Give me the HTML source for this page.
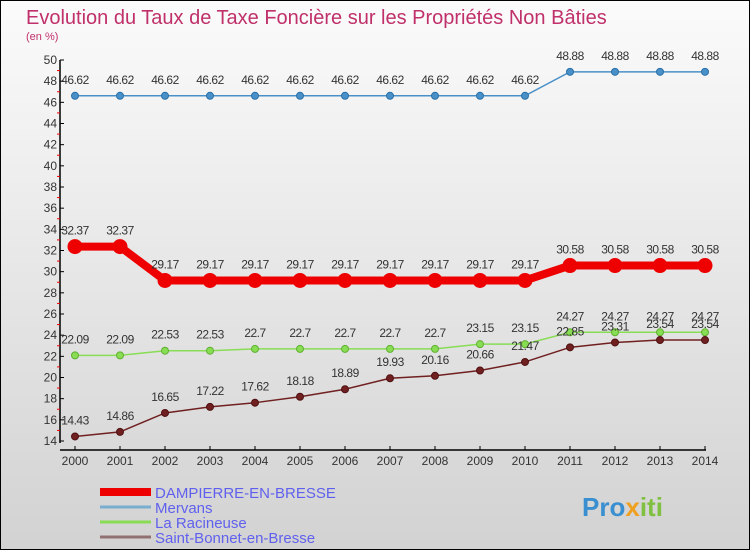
<!DOCTYPE html>
<html><head><meta charset="utf-8"><style>
html,body{margin:0;padding:0}
body{width:750px;height:550px;overflow:hidden;font-family:"Liberation Sans",sans-serif}
svg{display:block}
</style></head><body>
<svg id="chart" width="750" height="550" xmlns="http://www.w3.org/2000/svg">
<defs><linearGradient id="bg" x1="0" y1="0" x2="0" y2="1"><stop offset="0" stop-color="#fbfbfb"/><stop offset="1" stop-color="#d2d2d2"/></linearGradient></defs>
<rect x="0" y="0" width="750" height="550" fill="url(#bg)"/>
<rect x="0.5" y="0.5" width="749" height="549" fill="none" stroke="#000" stroke-width="1"/>
<text x="26" y="24" font-size="20" fill="#c0306a">Evolution du Taux de Taxe Foncière sur les Propriétés Non Bâties</text>
<text x="26" y="40" font-size="11" fill="#c0306a">(en %)</text>
<g id="axes"></g>
<g id="series"></g>
<g id="legend"></g>
<text x="582" y="516" font-size="26" font-weight="bold" fill="#3a8fd0">Pro<tspan fill="#f0a020">x</tspan><tspan fill="#80c040">iti</tspan></text>
</svg>
<script>
const years=[2000,2001,2002,2003,2004,2005,2006,2007,2008,2009,2010,2011,2012,2013,2014];
const yTicks=[14,16,18,20,22,24,26,28,30,32,34,36,38,40,42,44,46,48,50];
const dampierre=[32.37,32.37,29.17,29.17,29.17,29.17,29.17,29.17,29.17,29.17,29.17,30.58,30.58,30.58,30.58];
const mervans=[46.62,46.62,46.62,46.62,46.62,46.62,46.62,46.62,46.62,46.62,46.62,48.88,48.88,48.88,48.88];
const racineuse=[22.09,22.09,22.53,22.53,22.7,22.7,22.7,22.7,22.7,23.15,23.15,24.27,24.27,24.27,24.27];
const saintBonnet=[14.43,14.86,16.65,17.22,17.62,18.18,18.89,19.93,20.16,20.66,21.47,22.85,23.31,23.54,23.54];
const seriesNames=["DAMPIERRE-EN-BRESSE","Mervans","La Racineuse","Saint-Bonnet-en-Bresse"];
const NS="http://www.w3.org/2000/svg";
const xS=i=>75+i*45;
const yS=v=>60+(50-v)*(381/36);
function mk(tag,attrs,parent){const e=document.createElementNS(NS,tag);for(const k in attrs)e.setAttribute(k,attrs[k]);parent.appendChild(e);return e;}
const axes=document.getElementById('axes');
let ax=mk('line',{x1:60,y1:60,x2:60,y2:443,stroke:'#000','stroke-width':1.5},axes);


let xa=mk('line',{x1:60,y1:450,x2:706,y2:450,stroke:'#000','stroke-width':1.5},axes);


yTicks.forEach((t,k)=>{
  const y=yS(t);
  let tk=mk('line',{x1:60,y1:y,x2:64,y2:y,stroke:'#000'},axes);
  
  
  if(k<yTicks.length-1){
    let mt=mk('line',{x1:57,y1:yS(t+1),x2:60,y2:yS(t+1),stroke:'#e00'},axes);
    
    
  }
  let tx=mk('text',{x:57,y:y+4,'text-anchor':'end','font-size':12,fill:'#333'},axes);
  tx.textContent=t;
  
  
});
years.forEach((yr,i)=>{
  const x=xS(i);
  let tk=mk('line',{x1:x,y1:446,x2:x,y2:450,stroke:'#000'},axes);
  
  
  let tx=mk('text',{x:x,y:465,'text-anchor':'middle','font-size':12,fill:'#333'},axes);
  tx.textContent=yr;
  
  
});
const sg=document.getElementById('series');
function draw(vals,color,w,r,name,dotStroke){
  const g=mk('g',{},sg);
  
  
  const pts=vals.map((v,i)=>xS(i)+','+yS(v)).join(' ');
  let pl=mk('polyline',{points:pts,fill:'none',stroke:color,'stroke-width':w},g);
  
  
  vals.forEach((v,i)=>{
    let c=mk('circle',{cx:xS(i),cy:yS(v),r:r,fill:color,stroke:dotStroke,'stroke-width':1},g);
    
    
    let t=mk('text',{x:xS(i),y:yS(v)-12,'text-anchor':'middle','font-size':12,fill:'#333','letter-spacing':'-0.5'},g);
    t.textContent=v;
    
    
  });
}
draw(mervans,'#4a90c8',1.5,3.5,'mervans','#2a70a8');
draw(racineuse,'#88dd55',1.5,3.5,'la-racineuse','#60b030');
draw(saintBonnet,'#702020',1.5,3.5,'saint-bonnet','#501010');
draw(dampierre,'#ee0000',8,7,'dampierre','#ee0000');
const lg=document.getElementById('legend');
const lc=['#ee0000','#7aaed0','#88dd55','#907070'];
const lw=[8,3,3,3];
seriesNames.forEach((n,i)=>{
  const y=492+i*15;
  let l=mk('line',{x1:100,y1:y,x2:151,y2:y,stroke:lc[i],'stroke-width':lw[i]},lg);
  
  
  let t=mk('text',{x:155,y:y+6,'font-size':15,fill:'#6060ee'},lg);
  t.textContent=n;
  
  
});
</script>
</body></html>
